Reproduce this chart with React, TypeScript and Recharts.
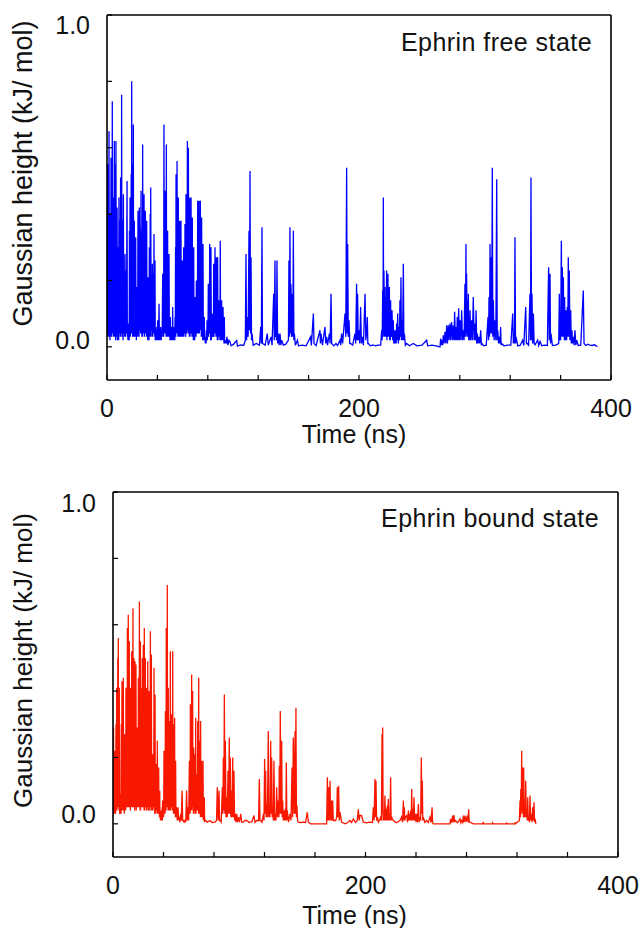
import { LineChart, Line, XAxis, YAxis } from "recharts"

type Pt = [number, number]

// Ephrin free state: [time (ns), gaussian height (kJ/mol)]
const freeEarly: Pt[] = [
  [0, 0.03], [0.25, 0.42], [0.5, 0.55], [0.75, 0.03], [1.05, 0.48], [1.35, 0.04], [1.6, 0.65], [1.85, 0.03], [2.1, 0.35], [2.35, 0.02],
  [2.6, 0.4], [2.9, 0.04], [3.2, 0.57], [3.45, 0.03], [3.7, 0.45], [3.95, 0.04], [4.2, 0.74], [4.45, 0.05], [4.7, 0.4], [4.95, 0.03],
  [5.2, 0.45], [5.5, 0.03], [5.8, 0.62], [6.05, 0.04], [6.2, 0.45], [6.4, 0.03], [6.6, 0.55], [6.85, 0.02], [7.1, 0.62], [7.35, 0.05],
  [7.55, 0.38], [7.8, 0.03], [8.0, 0.42], [8.25, 0.02], [8.5, 0.3], [8.75, 0.03], [9.0, 0.25], [9.25, 0.02], [9.5, 0.45], [9.8, 0.04],
  [10.15, 0.38], [10.5, 0.03], [10.8, 0.51], [11.0, 0.03], [11.2, 0.45], [11.4, 0.04], [11.6, 0.76], [11.85, 0.05], [12.05, 0.32], [12.3, 0.03],
  [12.5, 0.38], [12.75, 0.02], [13.0, 0.46], [13.3, 0.04], [13.65, 0.22], [14.0, 0.03], [14.3, 0.28], [14.55, 0.03], [14.85, 0.18], [15.1, 0.23],
  [15.35, 0.04], [15.6, 0.2], [15.9, 0.5], [16.15, 0.03], [16.4, 0.06], [16.65, 0.02], [16.9, 0.07], [17.15, 0.02], [17.4, 0.05], [17.6, 0.02],
  [17.8, 0.35], [18.05, 0.04], [18.3, 0.45], [18.5, 0.03], [18.75, 0.38], [19.0, 0.04], [19.2, 0.52], [19.4, 0.06], [19.6, 0.8], [19.85, 0.04],
  [20.05, 0.45], [20.3, 0.03], [20.5, 0.55], [20.7, 0.05], [20.9, 0.67], [21.15, 0.03], [21.4, 0.3], [21.55, 0.03], [21.7, 0.38], [21.95, 0.03],
  [22.25, 0.28], [22.55, 0.04], [22.8, 0.33], [23.0, 0.03], [23.15, 0.14], [23.3, 0.02], [23.5, 0.18], [23.8, 0.04], [24.05, 0.14], [24.3, 0.03],
  [24.6, 0.41], [24.85, 0.04], [25.15, 0.32], [25.45, 0.03], [25.7, 0.42], [26.0, 0.05], [26.35, 0.36], [26.7, 0.04], [27.0, 0.47], [27.25, 0.04],
  [27.45, 0.28], [27.7, 0.03], [27.9, 0.35], [28.1, 0.03], [28.3, 0.61], [28.55, 0.05], [28.85, 0.36], [29.15, 0.04], [29.4, 0.46], [29.65, 0.03],
  [29.9, 0.33], [30.15, 0.04], [30.4, 0.41], [30.7, 0.04], [30.95, 0.3], [31.25, 0.03], [31.5, 0.38], [31.75, 0.03], [32.0, 0.17], [32.25, 0.02],
  [32.5, 0.21], [32.8, 0.03], [33.05, 0.18], [33.35, 0.02], [33.6, 0.3], [33.8, 0.04], [33.95, 0.26], [34.1, 0.03], [34.3, 0.4], [34.5, 0.03],
  [34.7, 0.48], [35.0, 0.05], [35.35, 0.2], [35.7, 0.03], [36.0, 0.25], [36.3, 0.03], [36.65, 0.22], [37.0, 0.04], [37.3, 0.34], [37.5, 0.04],
  [37.7, 0.2], [37.9, 0.03], [38.1, 0.26], [38.3, 0.02], [38.5, 0.05], [38.7, 0.02], [38.9, 0.06], [39.2, 0.02], [39.55, 0.05], [39.9, 0.02],
  [40.2, 0.08], [40.5, 0.03], [40.75, 0.06], [41.0, 0.02], [41.3, 0.13], [41.6, 0.02], [41.95, 0.05], [42.3, 0.02], [42.6, 0.06], [43.0, 0.02],
  [43.4, 0.05], [43.8, 0.03], [44.2, 0.22], [44.45, 0.04], [44.7, 0.18], [44.95, 0.03], [45.2, 0.67], [45.5, 0.05], [45.75, 0.38], [46.0, 0.04],
  [46.3, 0.47], [46.5, 0.04], [46.7, 0.36], [46.9, 0.03], [47.1, 0.61], [47.35, 0.05], [47.6, 0.28], [47.85, 0.03], [48.1, 0.35], [48.4, 0.03],
  [48.65, 0.22], [48.9, 0.03], [49.2, 0.28], [49.5, 0.03], [49.75, 0.07], [50.0, 0.02], [50.3, 0.09], [50.55, 0.02], [50.8, 0.05], [51.05, 0.02],
  [51.3, 0.06], [51.5, 0.02], [51.7, 0.05], [51.9, 0.02], [52.1, 0.12], [52.4, 0.02], [52.65, 0.05], [52.9, 0.02], [53.2, 0.06], [53.4, 0.02],
  [53.6, 0.05], [53.8, 0.02], [54.0, 0.09], [54.2, 0.03], [54.4, 0.3], [54.6, 0.03], [54.8, 0.52], [55.0, 0.05], [55.2, 0.38], [55.4, 0.04],
  [55.6, 0.56], [55.85, 0.04], [56.1, 0.36], [56.35, 0.03], [56.6, 0.45], [56.85, 0.03], [57.15, 0.3], [57.45, 0.03], [57.7, 0.38], [57.95, 0.04],
  [58.2, 0.3], [58.45, 0.03], [58.7, 0.38], [59.0, 0.03], [59.25, 0.2], [59.55, 0.03], [59.8, 0.26], [60.05, 0.04], [60.3, 0.22], [60.55, 0.03],
  [60.8, 0.3], [61.05, 0.03], [61.35, 0.26], [61.65, 0.04], [61.9, 0.37], [62.1, 0.04], [62.3, 0.32], [62.5, 0.03], [62.7, 0.46], [62.95, 0.05],
  [63.25, 0.4], [63.55, 0.04], [63.8, 0.62], [64.0, 0.06], [64.2, 0.45], [64.4, 0.05], [64.6, 0.6], [64.85, 0.04], [65.1, 0.36], [65.35, 0.03],
  [65.6, 0.45], [65.85, 0.03], [66.15, 0.36], [66.45, 0.04], [66.7, 0.45], [66.95, 0.04], [67.2, 0.32], [67.45, 0.03], [67.7, 0.39], [67.95, 0.03],
  [68.25, 0.25], [68.55, 0.02], [68.8, 0.3], [69.05, 0.02], [69.3, 0.12], [69.55, 0.02], [69.8, 0.15], [70.05, 0.03], [70.35, 0.14], [70.65, 0.03],
  [70.9, 0.2], [71.15, 0.04], [71.45, 0.16], [71.75, 0.04], [72.0, 0.44], [72.25, 0.05], [72.5, 0.36], [72.75, 0.04], [73.0, 0.44], [73.3, 0.04],
  [73.55, 0.36], [73.85, 0.05], [74.1, 0.44], [74.35, 0.05], [74.6, 0.32], [74.85, 0.03], [75.1, 0.39], [75.35, 0.03], [75.65, 0.26], [75.95, 0.02],
  [76.2, 0.31], [76.45, 0.02], [76.7, 0.07], [76.95, 0.02], [77.2, 0.09], [77.45, 0.02], [77.75, 0.03], [78.05, 0.01], [78.3, 0.03], [78.6, 0.01],
  [78.85, 0.05], [79.15, 0.02], [79.4, 0.08], [79.65, 0.02], [79.9, 0.06], [80.15, 0.03], [80.4, 0.19], [80.65, 0.03], [80.95, 0.15], [81.25, 0.04],
  [81.5, 0.31], [81.75, 0.04], [82.0, 0.24], [82.25, 0.02], [82.5, 0.3], [82.8, 0.02], [83.05, 0.08], [83.35, 0.03], [83.6, 0.1], [83.85, 0.03],
  [84.15, 0.08], [84.45, 0.03], [84.7, 0.25], [84.95, 0.03], [85.2, 0.2], [85.45, 0.04], [85.7, 0.3], [85.95, 0.04], [86.25, 0.22], [86.55, 0.03],
  [86.8, 0.27], [87.05, 0.03], [87.3, 0.22], [87.55, 0.02], [87.8, 0.27], [88.1, 0.02], [88.35, 0.11], [88.65, 0.03], [88.9, 0.14], [89.15, 0.03],
  [89.4, 0.11], [89.65, 0.02], [89.9, 0.32], [90.15, 0.02], [90.45, 0.11], [90.75, 0.02], [91.0, 0.14], [91.3, 0.02], [91.55, 0.09], [91.85, 0.02],
  [92.1, 0.12], [92.35, 0.02], [92.6, 0.07], [92.85, 0.01], [93.1, 0.09], [93.4, 0.01], [93.65, 0.02], [93.95, 0.01], [94.2, 0.02], [94.7, 0.01],
  [95.2, 0.03], [96.0, 0.005], [96.8, 0.02],
]

const freeMid: Pt[] = [
  [97.6, 0.016], [98.5, 0.003], [100.5, 0.008], [102.9, 0.019], [103.5, 0.002], [106, 0.006], [108.5, 0.004], [109.8, 0.02], [110.3, 0.28], [110.8, 0.02],
  [111.4, 0.09], [112.0, 0.03], [112.7, 0.35], [113.1, 0.05], [113.5, 0.53], [113.9, 0.04], [114.3, 0.27], [114.7, 0.02], [115.1, 0.04], [116, 0.005],
  [118.5, 0.01], [121, 0.005], [122.0, 0.06], [122.5, 0.01], [123.0, 0.36], [123.4, 0.01], [125.5, 0.005], [127.2, 0.04], [128, 0.005], [130.2, 0.03],
  [131, 0.005], [132.3, 0.16], [132.8, 0.02], [133.3, 0.26], [133.7, 0.03], [134.1, 0.08], [134.5, 0.02], [134.9, 0.26], [135.4, 0.01], [136.0, 0.04],
  [136.6, 0.005], [137.3, 0.04], [138, 0.005], [138.6, 0.02], [140, 0.005], [142, 0.008], [144.0, 0.02], [144.4, 0.26], [144.8, 0.03], [145.2, 0.36],
  [145.6, 0.04], [146.0, 0.19], [146.5, 0.03], [147.1, 0.16], [147.5, 0.03], [147.9, 0.35], [148.3, 0.02], [148.7, 0.04], [149.5, 0.005], [151.1, 0.02],
  [152, 0.003], [155, 0.005], [158, 0.003], [161.6, 0.03], [162.2, 0.004], [163.8, 0.1], [164.3, 0.01], [166, 0.004], [169.0, 0.05], [169.4, 0.01],
  [169.8, 0.04], [171, 0.005], [173.0, 0.06], [173.6, 0.01], [174.3, 0.03], [175, 0.005], [176.5, 0.04], [177.1, 0.01], [177.8, 0.16], [178.3, 0.01],
  [180, 0.003], [181.7, 0.01], [183, 0.004], [184.9, 0.02], [185.5, 0.005], [186.2, 0.04], [187, 0.01], [188.9, 0.1], [189.5, 0.03], [190.2, 0.54],
  [190.6, 0.04], [191.0, 0.31], [191.5, 0.03], [192.1, 0.08], [192.7, 0.01], [193.4, 0.01], [195, 0.005], [196.8, 0.04], [197.4, 0.01], [198.1, 0.19],
  [198.5, 0.02], [198.9, 0.16], [199.4, 0.02], [200.0, 0.05], [200.6, 0.01], [201.3, 0.12], [201.9, 0.01], [202.6, 0.03], [203.5, 0.005], [204.8, 0.16],
  [205.4, 0.02], [206.0, 0.04], [206.6, 0.09], [207.0, 0.01], [207.4, 0.01],
]

const freeLate: Pt[] = [
  [209, 0.003], [211, 0.006], [213, 0.003], [215, 0.005], [217.2, 0.005], [218.0, 0.05], [218.4, 0.02], [218.8, 0.17], [219.05, 0.03], [219.3, 0.45],
  [219.55, 0.04], [219.8, 0.23], [220.2, 0.03], [220.6, 0.18], [220.9, 0.03], [221.25, 0.15], [221.55, 0.03], [221.9, 0.23], [222.15, 0.02], [222.45, 0.17],
  [222.75, 0.03], [223.0, 0.22], [223.25, 0.03], [223.55, 0.15], [223.8, 0.03], [224.1, 0.18], [224.35, 0.02], [224.6, 0.11], [224.85, 0.02], [225.1, 0.14],
  [225.35, 0.03], [225.65, 0.09], [225.95, 0.03], [226.2, 0.11], [226.7, 0.02], [227.2, 0.08], [227.6, 0.01], [228.0, 0.05], [228.5, 0.01], [229.1, 0.05],
  [229.5, 0.01], [229.9, 0.07], [230.3, 0.02], [230.7, 0.1], [231.2, 0.01], [231.7, 0.06], [232.1, 0.02], [232.5, 0.14], [232.9, 0.03], [233.3, 0.21],
  [233.7, 0.02], [234.1, 0.08], [234.6, 0.02], [235.2, 0.25], [235.6, 0.02], [236.0, 0.04], [236.8, 0.005], [237.8, 0.01], [240, 0.003], [243.1, 0.01],
  [246, 0.003], [250, 0.005], [253.7, 0.02], [254.5, 0.003], [258, 0.005], [261, 0.003], [264.3, 0.0], [264.8, 0.025], [265.3, 0.005], [265.9, 0.02],
  [266.4, 0.005], [266.9, 0.035], [267.5, 0.01], [268.3, 0.045], [268.9, 0.01], [269.6, 0.065], [270.2, 0.01], [270.9, 0.065], [271.5, 0.02], [272.2, 0.07],
  [272.8, 0.02], [273.5, 0.075], [274.2, 0.02], [274.9, 0.065], [275.4, 0.02], [275.9, 0.106], [276.5, 0.02], [277.0, 0.06], [277.5, 0.02], [278.0, 0.09],
  [278.6, 0.02], [279.1, 0.116], [279.6, 0.02], [280.2, 0.08], [280.8, 0.02], [281.5, 0.11], [282.1, 0.02], [282.8, 0.05], [283.4, 0.02], [284.1, 0.19],
  [284.5, 0.03], [284.9, 0.31], [285.15, 0.04], [285.4, 0.22], [285.75, 0.03], [286.1, 0.14], [286.45, 0.03], [286.8, 0.16], [287.1, 0.02], [287.45, 0.09],
  [287.8, 0.02], [288.1, 0.11], [288.7, 0.02], [289.4, 0.08], [290.0, 0.02], [290.7, 0.15], [291.4, 0.02], [292.1, 0.07], [292.5, 0.02], [292.9, 0.11],
  [293.4, 0.01], [293.9, 0.04], [294.5, 0.01], [295.0, 0.03], [295.8, 0.01], [296.6, 0.05], [297.1, 0.005], [297.6, 0.01], [299, 0.003], [301, 0.005],
  [302.4, 0.09], [302.8, 0.02], [303.2, 0.15], [303.6, 0.03], [304.0, 0.31], [304.4, 0.04], [304.8, 0.27], [305.3, 0.04], [305.8, 0.54], [306.2, 0.03],
  [306.6, 0.14], [307.2, 0.02], [307.9, 0.08], [308.6, 0.02], [309.3, 0.505], [309.7, 0.02], [310.1, 0.05], [310.8, 0.01], [311.4, 0.03], [311.9, 0.01],
  [312.4, 0.06], [312.8, 0.005], [313.2, 0.01], [315, 0.003], [318, 0.005], [320.5, 0.005], [322.0, 0.1], [322.5, 0.01], [323.0, 0.04], [323.4, 0.01],
  [323.8, 0.33], [324.2, 0.01], [324.6, 0.03], [326, 0.003], [328, 0.005], [329.9, 0.02], [330.8, 0.004], [332.3, 0.12], [332.9, 0.01], [333.6, 0.01],
  [334.6, 0.005], [335.7, 0.16], [336.1, 0.02], [336.5, 0.51], [336.9, 0.02], [337.3, 0.16], [337.8, 0.01], [338.4, 0.1], [339.0, 0.01], [339.7, 0.006],
  [341.8, 0.02], [342.6, 0.004], [343.7, 0.016], [345, 0.003], [347, 0.005], [349.5, 0.004], [350.5, 0.24], [351.0, 0.02], [351.6, 0.22], [352.0, 0.01],
  [352.4, 0.04], [353.5, 0.004], [356, 0.005], [358.5, 0.01], [359.0, 0.16], [359.25, 0.02], [359.5, 0.09], [360.0, 0.02], [360.6, 0.32], [361.0, 0.03],
  [361.4, 0.24], [361.8, 0.03], [362.2, 0.21], [362.45, 0.03], [362.7, 0.13], [362.95, 0.02], [363.2, 0.15], [363.45, 0.02], [363.75, 0.09], [364.0, 0.02],
  [364.3, 0.11], [364.8, 0.02], [365.3, 0.12], [365.7, 0.03], [366.1, 0.27], [366.5, 0.03], [366.9, 0.23], [367.4, 0.02], [368.0, 0.11], [368.5, 0.01],
  [369.0, 0.05], [369.5, 0.01], [370.1, 0.03], [370.7, 0.005], [371.4, 0.05], [372.1, 0.005], [372.8, 0.02], [374, 0.004], [376, 0.005], [378.0, 0.17],
  [378.6, 0.01], [380, 0.004], [381.5, 0.008], [383.3, 0.005], [385, 0.004], [387, 0.006], [389.2, 0.0],
]

// Ephrin bound state
const boundEarly: Pt[] = [
  [0, 0.02], [0.2, 0.2], [0.4, 0.29], [0.6, 0.03], [0.85, 0.18], [1.1, 0.03], [1.3, 0.22], [1.55, 0.03], [1.8, 0.15], [2.05, 0.03],
  [2.35, 0.3], [2.65, 0.04], [2.9, 0.41], [3.1, 0.04], [3.35, 0.34], [3.6, 0.05], [3.8, 0.5], [4.0, 0.05], [4.2, 0.56], [4.4, 0.05],
  [4.6, 0.35], [4.8, 0.04], [5.0, 0.41], [5.25, 0.03], [5.55, 0.07], [5.85, 0.03], [6.1, 0.09], [6.35, 0.03], [6.6, 0.3], [6.85, 0.04],
  [7.1, 0.43], [7.35, 0.05], [7.65, 0.35], [7.95, 0.04], [8.2, 0.44], [8.45, 0.04], [8.7, 0.22], [8.95, 0.03], [9.2, 0.27], [9.45, 0.04],
  [9.75, 0.22], [10.05, 0.04], [10.3, 0.41], [10.55, 0.05], [10.85, 0.34], [11.15, 0.05], [11.4, 0.59], [11.6, 0.06], [11.75, 0.45], [11.9, 0.05],
  [12.1, 0.63], [12.3, 0.06], [12.5, 0.45], [12.7, 0.05], [12.9, 0.55], [13.15, 0.05], [13.45, 0.34], [13.75, 0.04], [14.0, 0.41], [14.2, 0.05],
  [14.4, 0.36], [14.6, 0.05], [14.8, 0.52], [15.05, 0.06], [15.3, 0.42], [15.55, 0.05], [15.8, 0.65], [16.0, 0.06], [16.2, 0.42], [16.4, 0.05],
  [16.6, 0.5], [16.8, 0.05], [17.0, 0.4], [17.2, 0.04], [17.4, 0.49], [17.6, 0.05], [17.8, 0.4], [18.0, 0.05], [18.2, 0.48], [18.45, 0.04],
  [18.75, 0.24], [19.05, 0.05], [19.3, 0.29], [19.5, 0.05], [19.7, 0.24], [19.9, 0.05], [20.1, 0.44], [20.3, 0.06], [20.5, 0.36], [20.7, 0.05],
  [20.9, 0.67], [21.1, 0.05], [21.3, 0.44], [21.5, 0.04], [21.7, 0.55], [21.9, 0.04], [22.05, 0.34], [22.2, 0.05], [22.4, 0.41], [22.6, 0.05],
  [22.8, 0.34], [23.0, 0.05], [23.2, 0.5], [23.4, 0.06], [23.6, 0.42], [23.8, 0.05], [24.0, 0.54], [24.2, 0.05], [24.4, 0.45], [24.6, 0.04],
  [24.8, 0.59], [25.0, 0.04], [25.2, 0.42], [25.4, 0.05], [25.6, 0.5], [25.85, 0.05], [26.15, 0.34], [26.45, 0.04], [26.7, 0.41], [26.9, 0.04],
  [27.1, 0.34], [27.3, 0.05], [27.5, 0.49], [27.75, 0.05], [28.0, 0.33], [28.25, 0.04], [28.5, 0.4], [28.75, 0.04], [29.05, 0.33], [29.35, 0.05],
  [29.6, 0.58], [29.8, 0.05], [30.0, 0.42], [30.2, 0.04], [30.4, 0.51], [30.65, 0.04], [30.9, 0.17], [31.15, 0.04], [31.4, 0.21], [31.65, 0.04],
  [31.95, 0.17], [32.25, 0.05], [32.5, 0.47], [32.7, 0.05], [32.9, 0.32], [33.1, 0.03], [33.3, 0.39], [33.55, 0.03], [33.8, 0.15], [34.05, 0.04],
  [34.3, 0.18], [34.5, 0.04], [34.7, 0.15], [34.9, 0.03], [35.1, 0.25], [35.4, 0.03], [35.65, 0.14], [35.95, 0.03], [36.2, 0.17], [36.4, 0.03],
  [36.6, 0.08], [36.8, 0.02], [37.0, 0.1], [37.2, 0.02], [37.4, 0.03], [37.6, 0.01], [37.8, 0.04], [38.0, 0.01], [38.2, 0.02], [38.35, 0.01],
  [38.5, 0.03], [38.7, 0.01], [38.9, 0.05], [39.1, 0.01], [39.3, 0.07], [39.55, 0.02], [39.8, 0.05], [40.1, 0.02], [40.4, 0.22], [40.65, 0.03],
  [40.95, 0.18], [41.25, 0.03], [41.5, 0.34], [41.7, 0.04], [41.85, 0.28], [42.0, 0.04], [42.2, 0.59], [42.4, 0.05], [42.6, 0.48], [42.8, 0.05],
  [43.0, 0.72], [43.2, 0.06], [43.4, 0.34], [43.6, 0.04], [43.8, 0.41], [44.0, 0.04], [44.2, 0.26], [44.4, 0.04], [44.6, 0.31], [44.8, 0.05],
  [45.0, 0.26], [45.2, 0.04], [45.4, 0.52], [45.6, 0.04], [45.8, 0.28], [46.0, 0.05], [46.2, 0.33], [46.45, 0.05], [46.75, 0.28], [47.05, 0.04],
  [47.3, 0.52], [47.5, 0.04], [47.7, 0.25], [47.9, 0.03], [48.1, 0.3], [48.3, 0.03], [48.45, 0.26], [48.6, 0.03], [48.8, 0.32], [49.0, 0.03],
  [49.2, 0.16], [49.4, 0.02], [49.6, 0.19], [49.85, 0.02], [50.1, 0.04], [50.4, 0.05], [50.9, 0.01], [51.5, 0.05], [52.0, 0.01], [52.5, 0.02],
  [53.0, 0.005], [53.6, 0.03], [54.1, 0.01], [54.7, 0.1], [55.2, 0.01], [55.7, 0.01], [56.3, 0.005], [57.0, 0.01], [57.6, 0.005], [58.3, 0.1],
  [58.8, 0.01], [59.4, 0.05], [59.9, 0.01], [60.5, 0.19], [60.7, 0.03], [60.9, 0.16], [61.1, 0.03], [61.3, 0.36], [61.55, 0.04], [61.8, 0.3],
  [62.05, 0.04], [62.3, 0.45], [62.5, 0.05], [62.7, 0.34], [62.9, 0.05], [63.1, 0.4], [63.3, 0.04], [63.5, 0.19], [63.7, 0.03], [63.9, 0.23],
  [64.1, 0.03], [64.3, 0.17], [64.5, 0.04], [64.7, 0.21], [64.9, 0.04], [65.1, 0.18], [65.3, 0.03], [65.5, 0.32], [65.7, 0.03], [65.9, 0.13],
  [66.1, 0.04], [66.3, 0.15], [66.5, 0.04], [66.7, 0.13], [66.9, 0.04], [67.1, 0.31], [67.3, 0.04], [67.5, 0.26], [67.7, 0.03], [67.9, 0.44],
  [68.05, 0.03], [68.25, 0.2], [68.4, 0.03], [68.6, 0.25], [68.8, 0.03], [69.0, 0.2], [69.2, 0.02], [69.4, 0.31], [69.6, 0.02], [69.8, 0.16],
  [70.0, 0.02], [70.2, 0.19], [70.5, 0.02], [70.75, 0.15], [71.0, 0.02], [71.3, 0.19], [71.55, 0.01], [71.8, 0.06], [72.05, 0.01], [72.3, 0.08],
  [72.6, 0.005], [72.9, 0.01], [73.4, 0.01], [74.7, 0.005], [76.8, 0.01], [78.5, 0.004], [80.8, 0.005], [82.0, 0.01], [82.6, 0.11], [83.3, 0.01],
  [84.0, 0.1], [84.4, 0.01], [84.8, 0.01], [85.7, 0.005], [86.6, 0.11], [87.0, 0.03], [87.4, 0.2], [87.8, 0.04], [88.2, 0.39], [88.6, 0.03],
  [89.0, 0.25], [89.5, 0.02], [90.0, 0.08], [90.5, 0.02], [91.1, 0.16], [91.6, 0.03], [92.1, 0.26], [92.5, 0.03], [92.9, 0.2], [93.4, 0.02],
  [94.0, 0.1], [94.4, 0.02], [94.8, 0.2], [95.3, 0.02], [95.8, 0.16], [96.3, 0.01], [96.9, 0.03], [97.4, 0.005], [98.0, 0.03], [98.6, 0.005],
  [99.3, 0.02],
]

const boundMid: Pt[] = [
  [100.2, 0.005], [101.1, 0.03], [102, 0.005], [103.2, 0.005], [104.5, 0.01], [105.9, 0.01], [108, 0.004], [110, 0.006], [111.7, 0.025], [112.5, 0.004],
  [113.8, 0.01], [115.3, 0.01], [115.9, 0.135], [116.4, 0.01], [117.0, 0.01], [118, 0.005], [119.1, 0.03], [119.6, 0.01], [120.1, 0.195], [120.5, 0.03],
  [120.9, 0.16], [121.3, 0.02], [121.7, 0.06], [122.3, 0.02], [123.0, 0.28], [123.4, 0.02], [123.8, 0.04], [124.3, 0.02], [124.9, 0.25], [125.3, 0.03],
  [125.7, 0.2], [126.1, 0.02], [126.5, 0.05], [127.0, 0.01], [127.5, 0.19], [128.0, 0.01], [128.6, 0.03], [129.1, 0.01], [129.6, 0.11], [130.3, 0.02],
  [131.0, 0.07], [131.4, 0.02], [131.7, 0.175], [132.1, 0.03], [132.5, 0.34], [133.0, 0.03], [133.6, 0.25], [134.0, 0.02], [134.4, 0.07], [134.9, 0.01],
  [135.4, 0.04], [136.0, 0.01], [136.5, 0.045], [136.9, 0.01], [137.3, 0.185], [137.7, 0.01], [138.1, 0.04], [139, 0.005], [140.2, 0.03], [141, 0.01],
  [141.8, 0.17], [142.3, 0.02], [142.8, 0.26], [143.5, 0.03], [144.2, 0.28], [144.5, 0.03], [144.9, 0.35], [145.3, 0.02], [145.7, 0.055], [146.2, 0.01],
  [146.8, 0.005], [148.5, 0.004], [150.8, 0.005], [152.5, 0.004], [153.9, 0.035], [154.7, 0.005], [156.5, 0.0], [169.2, 0.0], [169.8, 0.14], [170.3, 0.01],
  [170.8, 0.11], [171.3, 0.01], [171.9, 0.13], [172.4, 0.01], [172.9, 0.07], [173.4, 0.01], [174.0, 0.07], [174.5, 0.01], [175.0, 0.01], [176.4, 0.01],
  [177.2, 0.02], [177.7, 0.11], [178.2, 0.02], [178.7, 0.115], [179.2, 0.01], [179.8, 0.035], [181.1, 0.005], [183.8, 0.0], [186, 0.004], [187.7, 0.01],
  [189, 0.004], [190.4, 0.015], [192, 0.004], [193.5, 0.01], [194.3, 0.044], [195.0, 0.01], [195.6, 0.025], [196.9, 0.025], [198.3, 0.005],
]

const boundLate: Pt[] = [
  [201, 0.003], [203.5, 0.005], [205.5, 0.004], [206.2, 0.05], [206.8, 0.01], [207.5, 0.135], [207.9, 0.02], [208.3, 0.13], [208.8, 0.01], [209.4, 0.02],
  [210.2, 0.005], [211.0, 0.01], [212.0, 0.02], [212.6, 0.01], [213.1, 0.27], [213.35, 0.03], [213.6, 0.29], [214.0, 0.01], [214.4, 0.02], [214.9, 0.01],
  [215.4, 0.085], [215.8, 0.01], [216.2, 0.045], [216.7, 0.01], [217.3, 0.055], [217.7, 0.01], [218.1, 0.075], [218.5, 0.01], [218.9, 0.02], [219.4, 0.01],
  [219.9, 0.14], [220.3, 0.01], [220.7, 0.02], [222.0, 0.01], [224.5, 0.003], [227.3, 0.01], [228.6, 0.02], [229.3, 0.005], [230.0, 0.07], [230.4, 0.01],
  [230.8, 0.05], [231.2, 0.01], [231.6, 0.02], [232.6, 0.025], [233.3, 0.005], [234.0, 0.04], [234.4, 0.01], [234.8, 0.03], [235.3, 0.01], [235.8, 0.04],
  [236.2, 0.01], [236.6, 0.105], [237.0, 0.01], [237.4, 0.045], [237.9, 0.01], [238.4, 0.08], [238.9, 0.01], [239.5, 0.03], [240.0, 0.005], [240.5, 0.03],
  [241.2, 0.005], [241.9, 0.06], [242.5, 0.005], [243.2, 0.02], [243.7, 0.01], [244.2, 0.2], [244.6, 0.03], [245.0, 0.13], [245.4, 0.01], [245.8, 0.02],
  [247, 0.004], [248.4, 0.01], [249.8, 0.004], [251.1, 0.02], [252, 0.004], [252.7, 0.05], [253.2, 0.003], [253.7, 0.0], [267.0, 0.0], [267.4, 0.015],
  [268.2, 0.003], [269.0, 0.025], [269.5, 0.005], [270.1, 0.026], [270.6, 0.005], [271.1, 0.01], [273, 0.003], [274.9, 0.015], [275.5, 0.003], [276.2, 0.01],
  [277.0, 0.004], [277.5, 0.025], [278.1, 0.005], [278.8, 0.025], [279.6, 0.005], [280.6, 0.025], [281.2, 0.005], [281.7, 0.044], [282.2, 0.005], [282.8, 0.005],
  [285.4, 0.0], [293.0, 0.0], [293.3, 0.006], [293.6, 0.0], [300.5, 0.0], [300.7, 0.003], [301, 0.0], [311.6, 0.0], [311.8, 0.004], [312.1, 0.0],
  [318.2, 0.0], [318.4, 0.004], [318.7, 0.0], [321.9, 0.01], [322.4, 0.07], [322.7, 0.02], [323.0, 0.105], [323.35, 0.03], [323.7, 0.22], [324.0, 0.04],
  [324.3, 0.17], [324.55, 0.03], [324.8, 0.09], [325.05, 0.02], [325.3, 0.17], [325.7, 0.02], [326.1, 0.07], [326.5, 0.02], [326.9, 0.13], [327.3, 0.02],
  [327.7, 0.045], [328.1, 0.01], [328.5, 0.08], [328.9, 0.01], [329.3, 0.02], [329.8, 0.005], [330.3, 0.085], [330.8, 0.01], [331.4, 0.03], [331.9, 0.005],
  [332.4, 0.05], [332.9, 0.01], [333.5, 0.065], [333.9, 0.005], [334.3, 0.015], [335.0, 0.0],
]

const xTicks = [0, 40, 80, 120, 160, 200, 240, 280, 320, 360, 400]
const xLabels = [0, 200, 400]
const yTicks = [0, 0.2, 0.4, 0.6, 0.8, 1.0]
const yLabels = [0, 1]

const FONT = '"Liberation Sans", Arial, Helvetica, sans-serif'
const INK = "#111"

const toRows = (parts: Pt[][]) => parts.flat().map(([t, h]) => ({ t, h }))

function XTick({ x, y, payload }: any) {
  if (!xLabels.includes(payload.value)) return null
  return (
    <text x={x} y={y} textAnchor="middle" dominantBaseline="central" fontSize={25} fontFamily={FONT} fill={INK}>
      {payload.value}
    </text>
  )
}

function YTick({ x, y, payload, topShift, zeroShift }: any) {
  if (!yLabels.includes(payload.value)) return null
  const shift = payload.value === 1 ? topShift : zeroShift
  return (
    <text x={x} y={y + shift} textAnchor="end" dominantBaseline="central" fontSize={25} fontFamily={FONT} fill={INK}>
      {payload.value.toFixed(1)}
    </text>
  )
}

// baseline sits `gap` px above the bottom of the x-axis band
function XTitle({ viewBox, shiftX, gap }: any) {
  const vb = viewBox ?? { x: 0, y: 0, width: 0, height: 0 }
  return (
    <text x={vb.x + vb.width / 2 + shiftX} y={vb.y + vb.height - gap} textAnchor="middle" fontSize={25} fontFamily={FONT} fill={INK}>
      Time (ns)
    </text>
  )
}

function YTitle({ viewBox, shiftY, size }: any) {
  const vb = viewBox ?? { x: 0, y: 0, width: 0, height: 0 }
  const x = vb.x + 32
  const y = vb.y + vb.height / 2 + shiftY
  return (
    <text x={x} y={y} transform={`rotate(-90 ${x} ${y})`} textAnchor="middle" fontSize={size} fontFamily={FONT} fill={INK}>
      Gaussian height (kJ/ mol)
    </text>
  )
}

function PanelTitle({ viewBox, text, shiftY }: any) {
  const vb = viewBox ?? { x: 0, y: 0, width: 0, height: 0 }
  return (
    <text x={vb.x + vb.width - 19} y={vb.y + shiftY} textAnchor="end" fontSize={25} letterSpacing={0.45} fontFamily={FONT} fill={INK}>
      {text}
    </text>
  )
}

interface PanelProps {
  rows: { t: number; h: number }[]
  color: string
  title: string
  top: number
  height: number
  margin: { top: number; right: number; left: number; bottom: number }
  yWidth: number
  xHeight: number
  titleDy: number
  xTitleDx: number
  xTitleGap: number
  yTitleDy: number
  yTitleSize: number
  topShift: number
  zeroShift: number
}

function Panel(p: PanelProps) {
  const axisLine = { stroke: "#000", strokeWidth: 1.6 }
  const tickLine = { stroke: "#000", strokeWidth: 1.2 }
  return (
    <div style={{ position: "absolute", left: 0, top: p.top }}>
      <LineChart width={640} height={p.height} data={p.rows} margin={p.margin}>
        <XAxis
          dataKey="t"
          type="number"
          domain={[0, 400]}
          ticks={xTicks}
          interval={0}
          allowDataOverflow
          height={p.xHeight}
          tickSize={-5}
          tickMargin={33}
          axisLine={axisLine}
          tickLine={tickLine}
          tick={<XTick />}
          label={<XTitle shiftX={p.xTitleDx} gap={p.xTitleGap} />}
        />
        <XAxis
          xAxisId="top"
          orientation="top"
          type="number"
          domain={[0, 400]}
          ticks={xTicks}
          interval={0}
          allowDataOverflow
          height={1}
          tickSize={-5}
          axisLine={axisLine}
          tickLine={tickLine}
          tick={false}
          label={<PanelTitle text={p.title} shiftY={p.titleDy} />}
        />
        <YAxis
          type="number"
          domain={[-0.1, 1]}
          ticks={yTicks}
          interval={0}
          allowDataOverflow
          width={p.yWidth}
          tickSize={-5}
          tickMargin={22}
          axisLine={axisLine}
          tickLine={tickLine}
          tick={<YTick topShift={p.topShift} zeroShift={p.zeroShift} />}
          label={<YTitle shiftY={p.yTitleDy} size={p.yTitleSize} />}
        />
        <YAxis
          yAxisId="right"
          orientation="right"
          type="number"
          domain={[-0.1, 1]}
          ticks={yTicks}
          interval={0}
          allowDataOverflow
          width={1}
          tickSize={-5}
          axisLine={axisLine}
          tickLine={tickLine}
          tick={false}
        />
        <Line
          type="linear"
          dataKey="h"
          stroke={p.color}
          strokeWidth={1.3}
          dot={false}
          activeDot={false}
          isAnimationActive={false}
        />
      </LineChart>
    </div>
  )
}

export default function App() {
  return (
    <div style={{ position: "absolute", left: 0, top: 0, width: 640, height: 928, background: "#fff", overflow: "hidden" }}>
      <Panel
        rows={toRows([freeEarly, freeMid, freeLate])}
        color="#0000ff"
        title="Ephrin free state"
        top={0}
        height={460}
        margin={{ top: 14, right: 28, left: 0, bottom: 0 }}
        yWidth={107}
        xHeight={80}
        titleDy={37}
        xTitleDx={-5}
        xTitleGap={17}
        yTitleDy={-24}
        yTitleSize={27}
        topShift={10}
        zeroShift={-7}
      />
      <Panel
        rows={toRows([boundEarly, boundMid, boundLate])}
        color="#f81800"
        title="Ephrin bound state"
        top={460}
        height={468}
        margin={{ top: 31, right: 21, left: 0, bottom: 0 }}
        yWidth={113}
        xHeight={71}
        titleDy={36}
        xTitleDx={-11}
        xTitleGap={4}
        yTitleDy={-14}
        yTitleSize={26}
        topShift={11}
        zeroShift={-10}
      />
    </div>
  )
}
